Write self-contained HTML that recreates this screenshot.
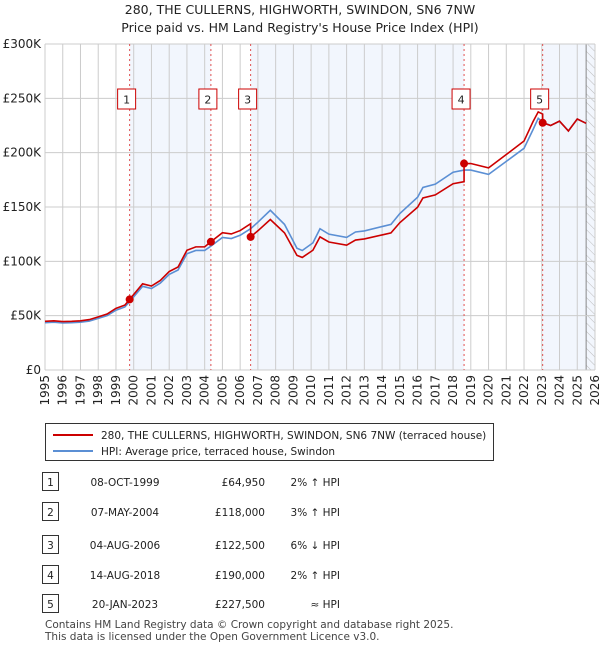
<!DOCTYPE html>
<html><head><meta charset="utf-8">
<style>
body{margin:0;background:#fff;font-family:"Liberation Sans","DejaVu Sans",sans-serif;}
#wrap{position:relative;width:600px;height:650px;overflow:hidden;}
svg text{font-family:"DejaVu Sans","Liberation Sans",sans-serif;}
</style></head>
<body>
<div id="wrap">
<svg id="chart" width="600" height="650">
<defs>
<pattern id="hatch" width="6" height="6" patternUnits="userSpaceOnUse" patternTransform="rotate(-45)">
<line x1="0" y1="0" x2="0" y2="6" stroke="#bbb" stroke-width="1"/>
</pattern>
</defs>
<text x="300" y="14" text-anchor="middle" font-size="12.5" fill="#222">280, THE CULLERNS, HIGHWORTH, SWINDON, SN6 7NW</text>
<text x="300" y="32" text-anchor="middle" font-size="12.5" fill="#222">Price paid vs. HM Land Registry's House Price Index (HPI)</text>
<g id="plot"></g>
<g>
<rect x="45.5" y="423.5" width="448" height="37" fill="#fff" stroke="#333" stroke-width="1"/>
<line x1="53" y1="435" x2="93" y2="435" stroke="#cc0000" stroke-width="2"/>
<text x="101" y="439" font-size="10.5" fill="#222">280, THE CULLERNS, HIGHWORTH, SWINDON, SN6 7NW (terraced house)</text>
<line x1="53" y1="451" x2="93" y2="451" stroke="#5b8fd4" stroke-width="2"/>
<text x="101" y="455" font-size="10.5" fill="#222">HPI: Average price, terraced house, Swindon</text>
</g>
<g id="table"></g>
<text x="45" y="628" font-size="10.5" fill="#444">Contains HM Land Registry data © Crown copyright and database right 2025.</text>
<text x="45" y="640" font-size="10.5" fill="#444">This data is licensed under the Open Government Licence v3.0.</text>
</svg>
</div>
<script>
const hpiDates=[1995,1995.5,1996,1996.5,1997,1997.5,1998,1998.5,1999,1999.5,1999.77,2000.5,2001,2001.5,2002,2002.5,2003,2003.5,2004,2004.35,2005,2005.5,2006,2006.59,2007,2007.7,2008.5,2009.2,2009.5,2010.1,2010.5,2011,2012,2012.5,2013,2014,2014.5,2015,2016,2016.3,2017,2018,2018.62,2019,2020,2021,2022,2022.5,2022.8,2023.05,2023.5,2024,2024.5,2025,2025.5];
const hpiValues=[43.5,44,43.3,43.5,44,45,47.5,50,55,58,63,77,75,80,88,92,107,110,110,114,122,121,124,130,136,147,134,112,110,117,130,125,122,127,128,132,134,144,159,168,171,182,184,184,180,192,204,221,231.6,228,225,229,220,231,227];
const redDates=[1995,1995.5,1996,1996.5,1997,1997.5,1998,1998.5,1999,1999.5,1999.77,2000.5,2001,2001.5,2002,2002.5,2003,2003.5,2004,2004.35,2005,2005.5,2006,2006.59,2006.59,2007,2007.7,2008.5,2009.2,2009.5,2010.1,2010.5,2011,2012,2012.5,2013,2014,2014.5,2015,2016,2016.3,2017,2018,2018.62,2018.62,2019,2020,2021,2022,2022.5,2022.8,2023.05,2023.05,2023.5,2024,2024.5,2025,2025.5];
const redValues=[44.8,45.3,44.6,44.8,45.3,46.4,48.9,51.5,56.7,59.7,64.95,79.3,77.3,82.4,90.6,94.8,110.2,113.3,113.3,118,126.3,125.2,128.3,134.6,122.5,128.1,138.5,126.2,105.5,103.6,110.2,122.5,117.8,114.9,119.6,120.6,124.3,126.2,135.6,149.8,158.3,161.1,171.4,173.3,190,190,186,198.3,210.7,228.3,237.5,235.5,227.5,225,229,220,231,227];
const saleDates=[1999.77,2004.35,2006.59,2018.62,2023.05];
const salePrices=[64.95,118,122.5,190,227.5];
const saleLabels=["1","2","3","4","5"];
const saleDateText=["08-OCT-1999","07-MAY-2004","04-AUG-2006","14-AUG-2018","20-JAN-2023"];
const salePriceText=["£64,950","£118,000","£122,500","£190,000","£227,500"];
const saleHpiText=["2% ↑ HPI","3% ↑ HPI","6% ↓ HPI","2% ↑ HPI","≈ HPI"];
const yTicks=[0,50,100,150,200,250,300];
const yTickLabels=["£0","£50K","£100K","£150K","£200K","£250K","£300K"];
const xYears=[1995,1996,1997,1998,1999,2000,2001,2002,2003,2004,2005,2006,2007,2008,2009,2010,2011,2012,2013,2014,2015,2016,2017,2018,2019,2020,2021,2022,2023,2024,2025,2026];

const NS="http://www.w3.org/2000/svg";
const X0=45,X1=595,Y0=370,Y1=44;
const xs=d=>X0+(d-1995)/(2026-1995)*(X1-X0);
const ys=v=>Y0-v/300*(Y0-Y1);
function mk(tag,attrs,parent,text){const e=document.createElementNS(NS,tag);for(const k in attrs)e.setAttribute(k,attrs[k]);if(text!==undefined)e.textContent=text;parent.appendChild(e);return e;}
const plot=document.getElementById('plot');
// shaded bands
const bandStarts=[saleDates[0],saleDates[2],saleDates[4]];
const bandEnds=[saleDates[1],saleDates[3],2026];
for(let i=0;i<bandStarts.length;i++){
 const r=mk('rect',{x:xs(bandStarts[i]),y:Y1,width:xs(bandEnds[i])-xs(bandStarts[i]),height:Y0-Y1,fill:'#f2f6fd'},plot);
 
 
}
const hx=xs(2025.5);
const h=mk('rect',{x:hx,y:Y1,width:X1-hx,height:Y0-Y1,fill:'url(#hatch)'},plot);


mk('line',{x1:hx,y1:Y1,x2:hx,y2:Y0,stroke:'#888','stroke-width':1},plot);
// grid
xYears.forEach(y=>{
 const l=mk('line',{x1:xs(y),y1:Y1,x2:xs(y),y2:Y0,stroke:'#ccc','stroke-width':1},plot);
 
 
 const t=mk('text',{x:0,y:0,'font-size':12,fill:'#222','text-anchor':'end',transform:`translate(${xs(y)+4},${Y0+5}) rotate(-90)`},plot,String(y));
 
 
});
yTicks.forEach((v,i)=>{
 const l=mk('line',{x1:X0,y1:ys(v),x2:X1,y2:ys(v),stroke:'#ccc','stroke-width':1},plot);
 
 
 const t=mk('text',{x:X0-4,y:ys(v)+4,'font-size':12,fill:'#222','text-anchor':'end'},plot,yTickLabels[i]);
 
 
});
// sale lines and boxes
saleDates.forEach((d,i)=>{
 const l=mk('line',{x1:xs(d),y1:Y1,x2:xs(d),y2:Y0,stroke:'#e05050','stroke-width':1,'stroke-dasharray':'2,3'},plot);
 
 
 const cx=xs(d)-3;
 const b=mk('rect',{x:cx-9,y:89,width:18,height:20,fill:'#fff',stroke:'#cc0000','stroke-width':1},plot);
 
 
 const t=mk('text',{x:cx,y:103.5,'font-size':11,'text-anchor':'middle',fill:'#222'},plot,saleLabels[i]);
 
 
});
// series
const hp=mk('polyline',{points:hpiDates.map((d,i)=>xs(d)+','+ys(hpiValues[i])).join(' '),fill:'none',stroke:'#5b8fd4','stroke-width':1.6},plot);


const rp=mk('polyline',{points:redDates.map((d,i)=>xs(d)+','+ys(redValues[i])).join(' '),fill:'none',stroke:'#cc0000','stroke-width':1.6},plot);


saleDates.forEach((d,i)=>{
 const c=mk('circle',{cx:xs(d),cy:ys(salePrices[i]),r:4,fill:'#cc0000'},plot);
 
 
});
// table
const tbl=document.getElementById('table');
const rowY=[483,513,546,576,605];
saleLabels.forEach((s,i)=>{
 const y=rowY[i];
 const b=mk('rect',{x:42.5,y:y-10.5,width:16,height:18,fill:'#fff',stroke:'#333','stroke-width':1},tbl);
 
 
 const n=mk('text',{x:50.5,y:y+3,'font-size':10.5,'text-anchor':'middle',fill:'#222'},tbl,s);
 
 
 const dt=mk('text',{x:125,y:y+3,'font-size':10.5,'text-anchor':'middle',fill:'#222'},tbl,saleDateText[i]);
 
 
 const p=mk('text',{x:265,y:y+3,'font-size':10.5,'text-anchor':'end',fill:'#222'},tbl,salePriceText[i]);
 
 
 const hh=mk('text',{x:340,y:y+3,'font-size':10.5,'text-anchor':'end',fill:'#222'},tbl,saleHpiText[i]);
 
 
});
</script>
</body></html>
